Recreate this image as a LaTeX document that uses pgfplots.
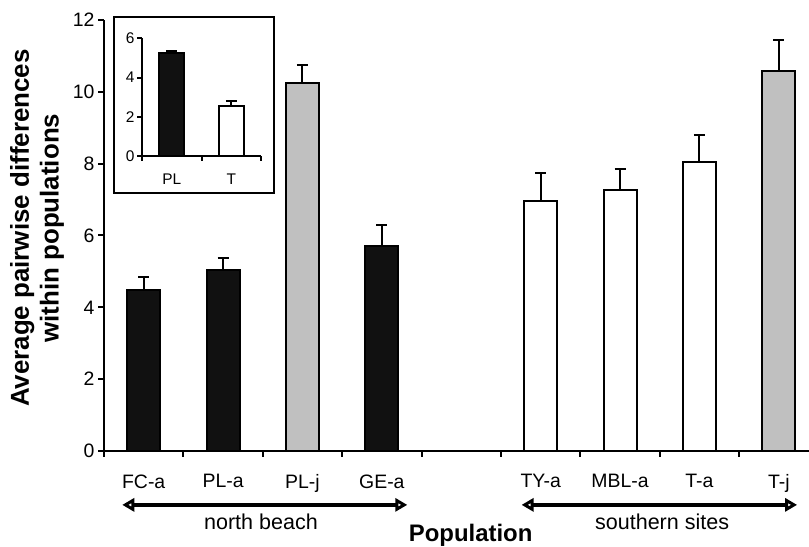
\documentclass[border=0pt]{standalone}
\usepackage{fontspec}
\setmainfont{Liberation Sans}
\usepackage{pgfplots}
\usepackage{pgfplotstable}
\pgfplotsset{compat=1.18}
\usetikzlibrary{arrows.meta}
\definecolor{barblack}{HTML}{111111}
\definecolor{bargray}{HTML}{C0C0C0}

\pgfplotstableread{
x y e
0 4.48 0.36
1 5.04 0.33
3 5.72 0.57
}\blackbars
\pgfplotstableread{
x y e
2 10.25 0.50
8 10.57 0.88
}\graybars
\pgfplotstableread{
x y e
5 6.96 0.77
6 7.28 0.57
7 8.04 0.76
}\whitebars
\pgfplotstableread{
x y e
0 5.27 0.07
}\insetblack
\pgfplotstableread{
x y e
1 2.55 0.24
}\insetwhite

\pgfplotsset{
  mybar/.style={ybar, bar width=#1, bar shift=0pt, draw=black, line width=2bp,
    error bars/y dir=plus, error bars/y explicit,
    error bars/error bar style={line width=2bp, black},
    error bars/error mark options={rotate=90, mark size=5.5bp, line width=2bp, black}},
}

\begin{document}
\begin{tikzpicture}
\useasboundingbox (0,0) rectangle (809bp,547bp);
\begin{axis}[
  at={(104bp,96bp)}, anchor=south west,
  width=705bp, height=431bp, scale only axis,
  xmin=-0.5, xmax=8.38, ymin=0, ymax=12,
  axis lines*=left,
  axis line style={line width=2bp, black},
  clip=false,
  ytick={0,2,...,12},
  xtick={0,...,8},
  xticklabels={FC-a,PL-a,PL-j,GE-a,,TY-a,MBL-a,T-a,T-j},
  minor xtick={-0.5,0.5,...,7.5},
  tick align=outside,
  major tick length=6bp, minor tick length=6bp,
  tick style={line width=2bp, black},
  major x tick style={draw=none},
  /pgf/number format/assume math mode=true,
  ticklabel style={font=\fontsize{19.5}{23}\selectfont},
  xticklabel style={yshift=-14bp},
  xlabel={Population},
  xlabel style={at={(axis description cs:0.52,-0.195)}, anchor=center, font=\fontsize{24}{28}\selectfont\bfseries},
  ylabel={Average pairwise differences\\within populations},
  ylabel style={at={(axis description cs:-0.095,0.517)}, anchor=center, align=center, font=\fontsize{26}{30}\selectfont\bfseries},
]
\addplot[mybar=33bp, fill=barblack] table[x=x, y=y, y error=e] {\blackbars};
\addplot[mybar=33bp, fill=bargray] table[x=x, y=y, y error=e] {\graybars};
\addplot[mybar=33bp, fill=white] table[x=x, y=y, y error=e] {\whitebars};
\draw[line width=4bp, {Triangle[open,length=12bp,width=13bp]}-{Triangle[open,length=12bp,width=13bp]}]
  (axis cs:-0.27,-1.5) -- (axis cs:3.32,-1.5);
\draw[line width=4bp, {Triangle[open,length=12bp,width=13bp]}-{Triangle[open,length=12bp,width=13bp]}]
  (axis cs:4.76,-1.5) -- (axis cs:8.23,-1.5);
\node[font=\fontsize{21.6}{25}\selectfont] at (axis cs:1.477,-1.977) {north beach};
\node[font=\fontsize{21.6}{25}\selectfont] at (axis cs:6.53,-1.977) {southern sites};
\end{axis}

\draw[line width=2.5bp, fill=white] (114bp,354bp) rectangle (274bp,530bp);

\begin{axis}[
  at={(142bp,391bp)}, anchor=south west,
  width=119bp, height=117.6bp, scale only axis,
  xmin=-0.5, xmax=1.5, ymin=0, ymax=6,
  axis lines*=left,
  axis line style={line width=2bp, black},
  clip=false,
  ytick={0,2,4,6},
  xtick={0,1},
  xticklabels={PL,T},
  minor xtick={-0.5,0.5,1.5},
  tick align=outside,
  major tick length=5bp, minor tick length=5bp,
  tick style={line width=2bp, black},
  major x tick style={draw=none},
  /pgf/number format/assume math mode=true,
  ticklabel style={font=\fontsize{15.5}{18}\selectfont},
  xticklabel style={yshift=-9bp},
  yticklabel style={xshift=1bp},
]
\addplot[mybar=25bp, fill=barblack] table[x=x, y=y, y error=e] {\insetblack};
\addplot[mybar=25bp, fill=white] table[x=x, y=y, y error=e] {\insetwhite};
\end{axis}
\end{tikzpicture}
\end{document}
